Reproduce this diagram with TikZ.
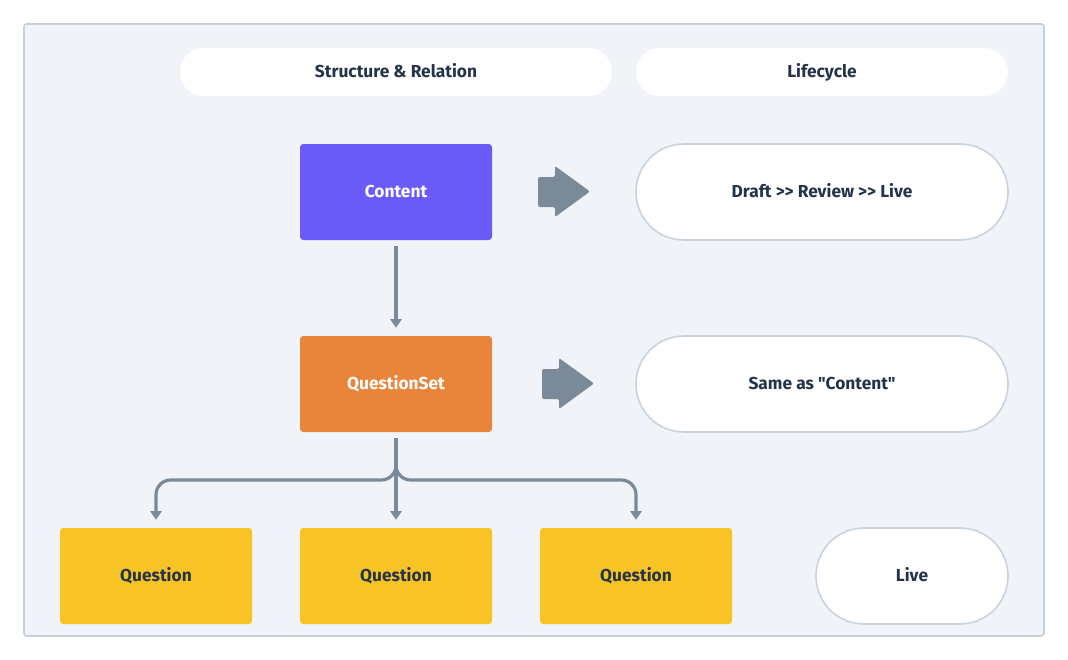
\documentclass[tikz,border=0pt]{standalone}
\usepackage{fontspec}
\setmainfont{Fira Sans}[Ligatures=TeXOff]
\usetikzlibrary{arrows.meta}
\definecolor{bgpanel}{HTML}{F0F4F8}
\definecolor{panelborder}{HTML}{C5D0DA}
\definecolor{pillborder}{HTML}{C9D3DD}
\definecolor{purplebox}{HTML}{6A5AF8}
\definecolor{orangebox}{HTML}{E8853A}
\definecolor{yellowbox}{HTML}{F7C325}
\definecolor{darktext}{HTML}{24334A}
\definecolor{arrowgray}{HTML}{7A8A98}
\tikzset{
  every node/.style={font=\fontsize{13}{15.5}\selectfont\bfseries, text height=8.2pt, text depth=0pt},
  entity/.style={rectangle, rounded corners=2.5pt, minimum width=144pt, minimum height=72pt, inner sep=0pt},
  header/.style={rectangle, rounded corners=17.9pt, fill=white, minimum height=36pt, inner sep=0pt, text=darktext},
  lifepill/.style={rectangle, rounded corners=35.9pt, fill=white, draw=pillborder, line width=1.2pt, minimum height=72pt, inner sep=0pt, text=darktext},
  link/.style={draw=arrowgray, line width=2.4pt, -{Triangle[width=8.5pt,length=6.5pt]}},
  blockarrow/.style={fill=arrowgray, rounded corners=1.5pt},
}
\begin{document}
\begin{tikzpicture}[x=0.75pt,y=-0.75pt]
\useasboundingbox (0,0) rectangle (1068,660);
% panel
\draw[fill=bgpanel, draw=panelborder, line width=1.2pt, rounded corners=2pt] (24,24) rectangle (1044,636);
% headers
\node[header, minimum width=324pt] (h1) at (396,72) {Structure \& Relation};
\node[header, minimum width=279pt] (h2) at (822,72) {Lifecycle};
% entities
\node[entity, fill=purplebox, text=white] (content) at (396,192) {Content};
\node[entity, fill=orangebox, text=white] (qs) at (396,384) {QuestionSet};
\node[entity, fill=yellowbox, text=darktext] (q1) at (156,576) {Question};
\node[entity, fill=yellowbox, text=darktext] (q2) at (396,576) {Question};
\node[entity, fill=yellowbox, text=darktext] (q3) at (636,576) {Question};
% lifecycle pills
\node[lifepill, minimum width=279pt] (l1) at (822,192) {Draft >> Review >> Live};
\node[lifepill, minimum width=279pt] (l2) at (822,384) {Same as "Content"};
\node[lifepill, minimum width=144pt] (l3) at (912,576) {Live};
% block arrows
\fill[blockarrow] (538,177) -- (555,177) -- (555,166) -- (590,191.5) -- (555,217) -- (555,207) -- (538,207) -- cycle;
\fill[blockarrow] (542,369) -- (559,369) -- (559,358) -- (594,383.5) -- (559,409) -- (559,399) -- (542,399) -- cycle;
% connectors
\coordinate (cs) at ([yshift=-4.5pt]content.south);
\coordinate (qss) at ([yshift=-4.5pt]qs.south);
\coordinate (qsn) at ([yshift=6pt]qs.north);
\coordinate (q1n) at ([yshift=6pt]q1.north);
\coordinate (q2n) at ([yshift=6pt]q2.north);
\coordinate (q3n) at ([yshift=6pt]q3.north);
\coordinate (jc) at (396,480);
\draw[link] (cs) -- (qsn);
\draw[link] (qss) -- (q2n);
\draw[link, rounded corners=11pt] (qss) -- (jc) -| (q1n);
\draw[link, rounded corners=11pt] (qss) -- (jc) -| (q3n);
\end{tikzpicture}
\end{document}
